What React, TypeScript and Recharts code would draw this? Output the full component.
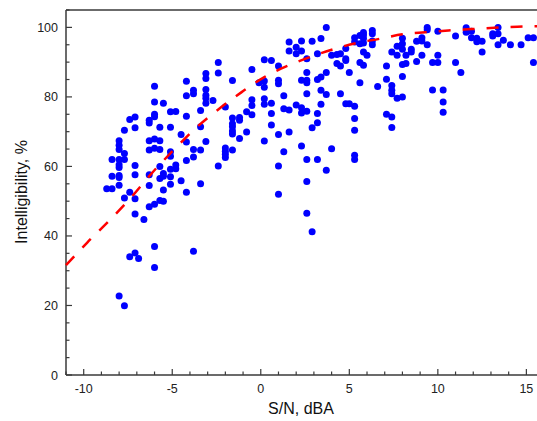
import { ScatterChart, Scatter, XAxis, YAxis } from "recharts";

const snr = [
  -8.7, -8.4, -8.4, -8.4, -8.0, -8.0, -8.0, -8.0, -8.0, -8.0, -8.0, -8.0, -8.0,
  -7.7, -7.7, -7.7, -7.7, -7.4, -7.1, -7.1, -7.1, -7.1, -7.4, -7.1, -7.1, -6.6,
  -6.3, -6.3, -6.3, -6.3, -6.3, -6.3, -6.3, -6.0, -6.0, -6.0, -6.0, -6.0, -6.0,
  -6.0, -6.0, -6.0, -5.7, -5.7, -5.7, -5.7, -5.7, -5.7, -5.5, -5.5, -5.5, -5.5,
  -5.5, -5.1, -4.8, -5.1, -5.1, -5.1, -5.1, -5.1, -5.1, -4.8, -4.8, -4.5, -4.5,
  -4.2, -4.2, -4.2, -4.2, -4.2, -4.2, -3.8, -3.8, -3.8, -3.8, -3.8, -3.4, -3.4,
  -3.4, -3.4, -3.1, -3.1, -3.1, -3.1, -3.1, -3.1, -3.1, -2.7, -2.4, -2.4, -2.4,
  -7.4, -7.1, -6.9, -8.0, -7.7,
  -2.0, -2.0, -2.0, -2.0, -2.0, -1.6, -1.6, -1.6, -1.6, -1.6, -1.6, -1.6, -1.2,
  -1.2, -1.2, -0.8, -0.8, -0.5, -0.5, -0.5, -0.5, -0.1, 0.2, 0.2, 0.2, 0.2, 0.2,
  0.2, 0.6, 0.6, 0.6, 0.6, 1.0, 1.0, 1.0, 1.0, 1.0, 1.0, 1.3, 1.3, 1.3, 1.6, 1.6,
  1.6, 1.6, 2.0, 2.0, 2.0, 2.3, 2.3, 2.3, 2.3, 2.3, 2.3, 2.6, 2.6, 2.6, 2.6, 2.6,
  2.6, 2.6, 2.6, 2.6, 2.9, 2.9, 2.9, 3.2, 3.2, 3.2, 3.2, 3.2, 3.4, 3.4, 3.4, 3.4,
  3.7, 3.7, 3.7, 3.7, 4.0, 4.0, 4.3, 4.3, 4.5, 4.5, 4.5, 4.8, 4.8, 4.8, 4.8, 5.0,
  5.0, 5.3, 5.3, 5.3, 5.3, 5.3, 5.3, 5.3, 5.6, 5.6, 5.6, 5.6,
  5.8, 5.8, 5.8, 5.8, 5.8, 5.8, 6.0, 6.3, 6.3, 6.3, 6.3, 6.6, 7.1, 7.1, 7.1, 7.4,
  7.4, 7.4, 7.4, 7.4, 7.4, 7.7, 7.7, 7.7, 8.0, 8.0, 8.0, 8.0, 8.0, 8.0, 8.2, 8.2,
  8.5, 8.5, 8.8, 8.8, 9.1, 9.1, 9.1, 9.4, 9.4, 9.4, 9.7, 9.7, 10.0, 10.0, 10.0,
  10.3, 10.3, 10.3, 11.0, 11.0, 11.3, 11.6, 11.6, 11.9, 11.9, 12.2, 12.2, 12.5,
  12.5, 13.1, 13.1, 13.4, 13.4, 13.4, 13.7, 14.1, 14.7, 15.1, 15.4, 15.4,
];

const intelligibility = [
  53.6, 53.6, 62.0, 57.2, 67.4, 66.1, 64.9, 62.0, 60.5, 59.7, 57.4, 56.8, 54.6,
  70.4, 63.7, 62.0, 50.9, 73.5, 74.2, 71.1, 60.3, 57.6, 52.6, 50.7, 46.3, 44.7,
  73.3, 72.5, 67.4, 64.7, 57.6, 54.5, 48.4, 83.1, 78.5, 75.0, 74.3, 67.9, 65.2,
  49.1, 37.0, 30.9, 71.3, 67.4, 64.9, 60.0, 56.5, 50.2, 78.2, 58.0, 57.2, 53.2,
  50.0, 75.7, 75.8, 71.3, 64.2, 62.9, 59.2, 57.0, 54.9, 60.4, 59.3, 69.2, 55.9,
  84.5, 80.3, 74.4, 67.0, 61.7, 52.6, 64.9, 81.9, 80.9, 62.7, 35.6, 76.1, 71.4,
  64.7, 55.0, 86.7, 85.3, 82.1, 80.5, 79.6, 78.2, 67.2, 79.0, 89.9, 86.9, 60.1,
  34.0, 35.1, 33.5, 22.7, 19.9,
  77.1, 65.3, 64.4, 63.5, 62.6, 84.7, 73.9, 72.3, 71.4, 70.2, 69.3, 64.7, 74.1,
  73.3, 68.0, 75.7, 69.9, 87.9, 79.2, 77.5, 74.9, 84.1, 90.7, 84.6, 82.8, 79.5,
  77.9, 67.3, 90.5, 78.2, 75.2, 71.9, 88.9, 84.8, 83.8, 69.2, 60.1, 52.0, 80.3,
  76.6, 64.2, 95.8, 93.2, 76.2, 69.9, 94.3, 92.4, 77.7, 96.1, 93.2, 84.8, 76.9,
  75.4, 65.9, 91.0, 87.0, 84.8, 84.1, 80.9, 75.9, 62.0, 55.7, 46.5, 96.0, 71.1,
  41.2, 92.4, 85.0, 75.2, 72.6, 62.0, 96.8, 85.7, 81.9, 77.9, 100.0, 87.0, 80.7,
  58.9, 92.0, 65.1, 92.2, 89.6, 92.4, 88.9, 80.9, 93.9, 91.0, 90.5, 78.0, 87.0,
  78.0, 97.0, 95.8, 77.3, 73.8, 70.4, 63.2, 62.0, 97.7, 95.3, 89.9, 84.1,
  98.5, 97.8, 96.8, 95.5, 92.9, 89.1, 92.0, 99.1, 98.2, 96.1, 95.0, 83.0, 88.9,
  85.1, 75.0, 92.9, 83.3, 81.9, 80.9, 74.2, 71.2, 94.6, 92.0, 79.6, 96.9, 95.3,
  93.7, 89.3, 85.9, 80.0, 92.0, 89.6, 93.7, 92.9, 96.0, 90.2, 97.0, 96.1, 92.0,
  100.0, 99.3, 95.0, 89.9, 82.0, 98.9, 92.0, 89.9, 82.0, 78.5, 75.6, 97.5, 89.9,
  87.0, 99.9, 98.6, 98.9, 97.0, 96.9, 95.9, 96.0, 92.9, 98.2, 97.5, 100.0, 98.2,
  95.0, 96.3, 95.0, 95.0, 97.0, 97.0, 89.9,
];

// fitted curve, sampled along the dashed line
const fitSnr = [
  -11, -9.8, -8.5, -7.3, -6.2, -5.0, -3.7, -2.4, -1.1, 0.2, 1.5, 2.8, 4.1, 5.4,
  6.7, 8.0, 9.3, 10.6, 11.9, 13.2, 14.5, 15.6,
];
const fitIntelligibility = [
  31.6, 38.1, 44.7, 51.2, 57.8, 64.3, 70.9, 76.4, 81.3, 85.7, 88.9, 91.5, 93.7,
  95.5, 96.7, 98.0, 98.6, 99.1, 99.5, 99.9, 100.2, 100.3,
];

const xTicks = [
  -11, -10, -9, -8, -7, -6, -5, -4, -3, -2, -1, 0, 1, 2, 3, 4, 5, 6, 7, 8, 9, 10,
  11, 12, 13, 14, 15,
];
const yTicks = [
  0, 5, 10, 15, 20, 25, 30, 35, 40, 45, 50, 55, 60, 65, 70, 75, 80, 85, 90, 95,
  100, 105,
];

const points = snr.map((x, i) => ({ x, y: intelligibility[i] }));
const fit = fitSnr.map((x, i) => ({ x, y: fitIntelligibility[i] }));

const AXIS = "#3a3a3a";
const FONT = "'Liberation Sans', Arial, sans-serif";

// ticks point into the plot; the tick line is drawn by hand from the axis position
function BottomTick({ x, y, payload }: any) {
  const major = payload.value % 5 === 0;
  return (
    <g>
      <line x1={x} x2={x} y1={y} y2={y - (major ? 6 : 3.5)} stroke={AXIS} strokeWidth={1.2} />
      {major && (
        <text x={x} y={y + 18} textAnchor="middle" fontSize={12.5} fill="#222" fontFamily={FONT}>
          {payload.value}
        </text>
      )}
    </g>
  );
}

function TopTick({ x, y, payload }: any) {
  const major = payload.value % 5 === 0;
  return <line x1={x} x2={x} y1={y} y2={y + (major ? 6 : 3.5)} stroke={AXIS} strokeWidth={1.2} />;
}

function LeftTick({ x, y, payload }: any) {
  const major = payload.value % 20 === 0;
  return (
    <g>
      <line x1={x} x2={x + (major ? 6 : 3.5)} y1={y} y2={y} stroke={AXIS} strokeWidth={1.2} />
      {major && (
        <text x={x - 8} y={y + 4.5} textAnchor="end" fontSize={12.5} fill="#222" fontFamily={FONT}>
          {payload.value}
        </text>
      )}
    </g>
  );
}

const Dot = (props: any) => <circle cx={props.cx} cy={props.cy} r={3.5} fill="#0000ff" />;
const NoDot = () => <g />;

export default function App() {
  return (
    <div style={{ position: "absolute", left: 0, top: 0, width: 537, height: 421, overflow: "hidden", background: "#fff" }}>
      <ScatterChart width={537} height={421} margin={{ top: 5, right: 0, bottom: 16, left: 26 }}>
        <XAxis
          type="number"
          dataKey="x"
          domain={[-11, 15.6]}
          ticks={xTicks}
          interval={0}
          height={30}
          tickSize={0}
          tickMargin={0}
          tick={<BottomTick />}
          tickLine={false}
          axisLine={{ stroke: AXIS, strokeWidth: 1.5 }}
        />
        <XAxis
          xAxisId="top"
          orientation="top"
          type="number"
          dataKey="x"
          domain={[-11, 15.6]}
          ticks={xTicks}
          interval={0}
          height={5}
          tickSize={0}
          tickMargin={0}
          tick={<TopTick />}
          tickLine={false}
          axisLine={{ stroke: AXIS, strokeWidth: 1.5 }}
        />
        <YAxis
          type="number"
          dataKey="y"
          domain={[0, 105]}
          ticks={yTicks}
          interval={0}
          width={40}
          tickSize={0}
          tickMargin={0}
          tick={<LeftTick />}
          tickLine={false}
          axisLine={{ stroke: AXIS, strokeWidth: 1.5 }}
        />
        <Scatter data={points} shape={Dot} isAnimationActive={false} />
        <Scatter
          data={fit}
          shape={NoDot}
          line={{ stroke: "#ff0000", strokeWidth: 2.5, strokeDasharray: "12 12" }}
          lineJointType="monotoneX"
          isAnimationActive={false}
        />
      </ScatterChart>
      <svg width={537} height={421} style={{ position: "absolute", left: 0, top: 0, pointerEvents: "none" }}>
        <text x={301} y={414} textAnchor="middle" fontSize={16} fill="#111" fontFamily={FONT}>
          S/N, dBA
        </text>
        <text
          x={27}
          y={192}
          textAnchor="middle"
          fontSize={16}
          fill="#111"
          fontFamily={FONT}
          transform="rotate(-90 27 192)"
        >
          Intelligibility, %
        </text>
      </svg>
    </div>
  );
}
